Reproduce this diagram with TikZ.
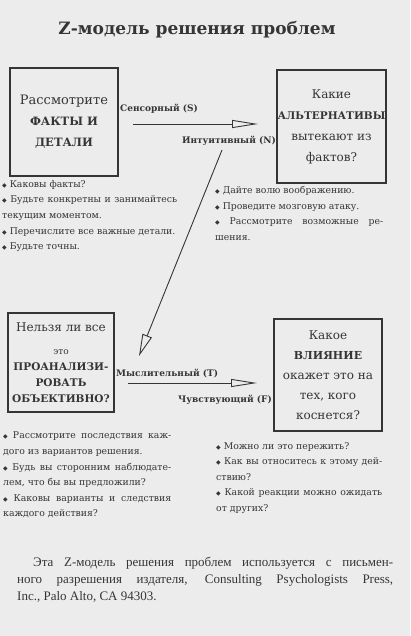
\documentclass[tikz,border=0pt]{standalone}
\usepackage{fontspec}
\setmainfont{DejaVu Serif}
\newfontfamily\symfont{DejaVu Sans}
\newfontfamily\notefont{Liberation Serif}
\usepackage{xcolor}
\usepackage{tikz}
\usetikzlibrary{arrows.meta,positioning,calc}

\definecolor{paper}{HTML}{ECECEC}
\definecolor{ink}{HTML}{353535}

\newcommand{\bul}{{\symfont\fontsize{6}{6}\selectfont ◆}\ }

\begin{document}
\begin{tikzpicture}[
  x=1pt, y=-1pt,
  title/.style={font=\fontsize{17}{20}\selectfont\bfseries, text=ink},
  bigbox/.style={draw=ink, line width=1.1pt, align=center, text=ink, inner sep=0pt, font=\fontsize{12}{21}\selectfont},
  hint/.style={anchor=north west, inner sep=0pt, align=justify, text=ink, font=\fontsize{9.3}{15.6}\selectfont},
  type/.style={inner sep=0pt, text=ink, font=\fontsize{9}{11}\selectfont\bfseries},
  flow/.style={draw=ink, line width=0.9pt, -{Triangle[open, length=26pt, width=8pt]}},
  slant flow/.style={draw=ink, line width=0.9pt, -{Triangle[open, length=22pt, width=10pt]}},
  note/.style={anchor=north west, inner sep=0pt, align=justify, text=ink, font=\notefont\fontsize{13}{17}\selectfont}
]
  % paper
  \fill[paper] (0,0) rectangle (410,636);
  \useasboundingbox (0,0) rectangle (410,636);

  \node[title] (title) at (197,30) {Z-модель решения проблем};

  % the four questions
  \node[bigbox, minimum width=108pt, minimum height=108pt] (facts) at (64,122)
    {{\fontsize{13}{21}\selectfont Рассмотрите}\\{\bfseries\fontsize{11.5}{21}\selectfont ФАКТЫ И}\\{\bfseries\fontsize{11.5}{21}\selectfont ДЕТАЛИ}};
  \node[bigbox, minimum width=109pt, minimum height=113pt] (options) at (331.5,126.5)
    {Какие\\{\bfseries\fontsize{10.5}{21}\selectfont АЛЬТЕРНАТИВЫ}\\вытекают из\\фактов?};
  \node[bigbox, minimum width=106pt, minimum height=99pt, font=\fontsize{12}{16}\selectfont] (analyse) at (61,362.5)
    {Нельзя ли все\\[7pt]{\small это}\\{\bfseries\fontsize{10.5}{16}\selectfont ПРОАНАЛИЗИ-}\\{\bfseries\fontsize{10.5}{16}\selectfont РОВАТЬ}\\{\bfseries\fontsize{10.5}{16}\selectfont ОБЪЕКТИВНО?}};
  \node[bigbox, minimum width=108pt, minimum height=112pt, font=\fontsize{12}{20}\selectfont] (impact) at (328,375)
    {Какое\\{\bfseries\fontsize{11}{20}\selectfont ВЛИЯНИЕ}\\окажет это на\\тех, кого\\коснется?};

  % hints under the boxes
  \node[hint, text width=175pt] (facts-list) at (2,180)
    {\bul Каковы факты?\\
     \bul Будьте конкретны и занимайтесь\linebreak
     текущим моментом.\\
     \bul Перечислите все важные детали.\\
     \bul Будьте точны.};
  \node[hint, text width=168pt] (options-list) at (215,186)
    {\bul Дайте волю воображению.\\
     \bul Проведите мозговую атаку.\\
     \bul Рассмотрите возможные ре-\linebreak
     шения.};
  \node[hint, text width=168pt] (analyse-list) at (3,432)
    {\bul Рассмотрите последствия каж-\linebreak
     дого из вариантов решения.\\
     \bul Будь вы сторонним наблюдате-\linebreak
     лем, что бы вы предложили?\\
     \bul Каковы варианты и следствия\linebreak
     каждого действия?};
  \node[hint, text width=166pt] (impact-list) at (216,442)
    {\bul Можно ли это пережить?\\
     \bul Как вы относитесь к этому дей-\linebreak
     ствию?\\
     \bul Какой реакции можно ожидать\linebreak
     от других?};

  % preference labels
  \node[type, anchor=base west] (sens) at (120,112) {Сенсорный (S)};
  \node[type, anchor=base east] (intu) at (276,144) {Интуитивный (N)};
  \node[type, anchor=base west] (think) at (116,376) {Мыслительный (T)};
  \node[type, anchor=base east] (feel) at (272,402) {Чувствующий (F)};

  % the Z path
  \coordinate (sens-a) at (133,124);
  \coordinate (sens-b) at (258,124);
  \coordinate (intu-a) at (222,150);
  \coordinate (intu-b) at (139,356);
  \coordinate (think-a) at (128,383);
  \coordinate (think-b) at (257,383);
  \draw[flow] (sens-a) -- (sens-b);
  \draw[slant flow] (intu-a) -- (intu-b);
  \draw[flow] (think-a) -- (think-b);

  \node[note, text width=376pt] (credit) at (17,557)
    {\hspace*{16pt}Эта Z-модель решения проблем используется с письмен-\linebreak
     ного разрешения издателя, Consulting Psychologists Press,\linebreak
     Inc., Palo Alto, CA 94303.};
\end{tikzpicture}
\end{document}
